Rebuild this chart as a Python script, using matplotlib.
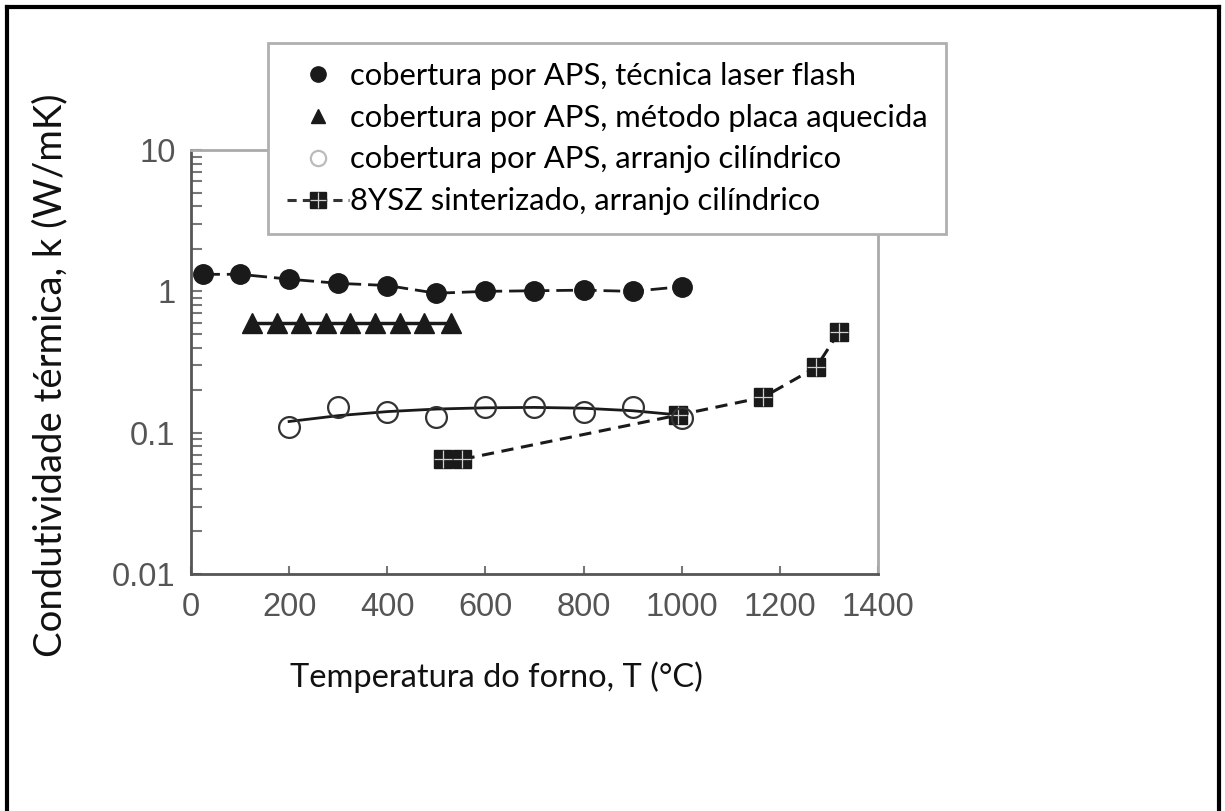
import numpy as np
import matplotlib
matplotlib.use('Agg')
import matplotlib.pyplot as plt
from matplotlib.lines import Line2D
from matplotlib.legend_handler import HandlerTuple
from matplotlib.ticker import LogLocator, NullFormatter, FixedLocator

# thermal conductivity vs furnace temperature
T_laser = [25, 100, 200, 300, 400, 500, 600, 700, 800, 900, 1000]
k_laser = [1.32, 1.32, 1.22, 1.14, 1.10, 0.97, 1.00, 1.01, 1.02, 1.00, 1.08]

T_placa = [125, 175, 225, 275, 325, 375, 425, 475, 530]
k_placa = [0.60, 0.60, 0.60, 0.60, 0.60, 0.60, 0.60, 0.60, 0.60]

T_cil = [200, 300, 400, 500, 600, 700, 800, 900, 1000]
k_cil = [0.109, 0.153, 0.139, 0.130, 0.151, 0.151, 0.139, 0.153, 0.128]

# smooth trend through the cylindrical-arrangement points
T_fit = [200, 300, 400, 500, 600, 700, 800, 900, 1000]
k_fit = [0.120, 0.132, 0.141, 0.147, 0.150, 0.151, 0.149, 0.143, 0.133]

T_sint = [513, 552, 992, 1166, 1274, 1320]
k_sint = [0.0647, 0.0647, 0.133, 0.178, 0.29, 0.513]

labels = ['cobertura por APS, técnica laser flash',
          'cobertura por APS, método placa aquecida',
          'cobertura por APS, arranjo cilíndrico',
          '8YSZ sinterizado, arranjo cilíndrico']

xticks = [0, 200, 400, 600, 800, 1000, 1200, 1400]

txt_font = ['Lato', 'DejaVu Sans']
num_font = ['Liberation Sans', 'DejaVu Sans']

fig = plt.figure(figsize=(12.25, 8.11), dpi=100)
ax = fig.add_axes([0.1559, 0.2922, 0.5608, 0.5228])

ax.plot(T_laser, k_laser, ls=(0, (6, 2.5)), color='#1a1a1a', lw=2,
        marker='o', ms=14, mfc='#1a1a1a', mec='#1a1a1a', zorder=4)
ax.plot(T_placa, k_placa, ls='-', color='#1a1a1a', lw=2.5,
        marker='^', ms=14, mfc='#1a1a1a', mec='#1a1a1a', zorder=4)
ax.plot(T_fit, k_fit, ls='-', color='#1a1a1a', lw=2, zorder=3)
ax.plot(T_cil, k_cil, ls='none', marker='o', ms=15, mfc='none',
        mec='#333333', mew=1.6, zorder=5)
ax.plot(T_sint, k_sint, ls=(0, (4, 2.5)), color='#1a1a1a', lw=2.2,
        marker='s', ms=13, mfc='#1a1a1a', mec='#1a1a1a', zorder=4)
ax.plot(T_sint, k_sint, ls='none', marker='+', ms=13, mec='#cfcfcf',
        mew=0.9, zorder=4.5)

ax.set_yscale('log')
ax.set_xlim(0, 1400)
ax.set_ylim(0.01, 10)
ax.xaxis.set_major_locator(FixedLocator(xticks))
ax.yaxis.set_minor_locator(LogLocator(base=10, subs=np.arange(2, 10)))
ax.yaxis.set_minor_formatter(NullFormatter())
ax.set_yticks([0.01, 0.1, 1, 10])
ax.set_yticklabels(['0.01', '0.1', '1', '10'])
ax.set_xticklabels([str(t) for t in xticks])

ax.tick_params(axis='both', which='both', direction='in', colors='#777777',
               labelcolor='#555555', width=1.5)
ax.tick_params(axis='x', which='major', length=6, pad=13, labelsize=23.5)
ax.tick_params(axis='y', which='major', length=8, pad=11, labelsize=23.5)
ax.tick_params(axis='y', which='minor', length=8)
for lbl in ax.get_xticklabels() + ax.get_yticklabels():
    lbl.set_family(num_font)

for side in ['left', 'bottom']:
    ax.spines[side].set_color('#555555')
    ax.spines[side].set_linewidth(2)
for side in ['top', 'right']:
    ax.spines[side].set_color('#aaaaaa')
    ax.spines[side].set_linewidth(2)

ax.set_xlabel('Temperatura do forno, T (°C)', family=txt_font, fontsize=23.5,
              color='#111111')
ax.xaxis.set_label_coords(0.444, -0.205)
ax.set_ylabel('Condutividade térmica, k (W/mK)', family=txt_font,
              fontsize=27.5, color='#111111')
ax.yaxis.set_label_coords(-0.178, 0.47)

h1 = Line2D([], [], ls='none', marker='o', ms=11, color='#1a1a1a')
h2 = Line2D([], [], ls='none', marker='^', ms=10, color='#1a1a1a')
h3 = Line2D([], [], ls='none', marker='o', ms=11, mfc='white',
            mec='#bbbbbb', mew=1.6)
h4a = Line2D([], [], ls=(0, (3, 2)), lw=2.2, color='#333333', marker='s',
             ms=12, mfc='#1a1a1a', mec='#1a1a1a')
h4b = Line2D([], [], ls='none', marker='+', ms=12, mec='#cfcfcf', mew=0.9)
leg = fig.legend([h1, h2, h3, (h4a, h4b)], labels,
                 handler_map={tuple: HandlerTuple(ndivide=1)},
                 loc='upper left', bbox_to_anchor=(0.2188, 0.947),
                 bbox_transform=fig.transFigure,
                 prop={'family': txt_font, 'size': 22.3},
                 frameon=True, fancybox=False, framealpha=1,
                 edgecolor='#b0b0b0', handlelength=2.0, handletextpad=0.05,
                 labelspacing=0.45, borderpad=0.6, borderaxespad=0)
leg.get_frame().set_linewidth(2)
leg.set_zorder(10)

# frame lines around the figure (left, top, right)
border = dict(color='black', lw=3, transform=fig.transFigure, clip_on=False)
fig.add_artist(Line2D([0.0057, 0.0057], [0.0, 0.9914], **border))
fig.add_artist(Line2D([0.0057, 0.9951], [0.9914, 0.9914], **border))
fig.add_artist(Line2D([0.9951, 0.9951], [0.0, 0.9914], **border))

fig.savefig('out.png', dpi=100)
